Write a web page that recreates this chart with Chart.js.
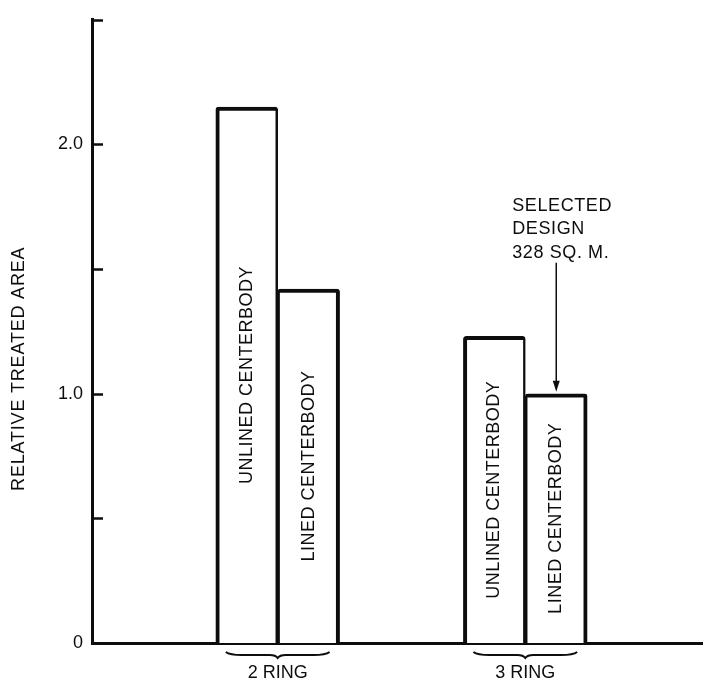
<!DOCTYPE html>
<html>
<head>
<meta charset="utf-8">
<script src="https://cdn.jsdelivr.net/npm/chart.js@4/dist/chart.umd.min.js"></script>
<style>
  html, body { margin: 0; padding: 0; background: #fff; overflow: hidden; }
  #wrap { width: 711px; height: 684px; }
</style>
</head>
<body>
<div id="wrap"><canvas id="chart" width="711" height="684"></canvas></div>
<script>
// categories (empty slots keep the two groups spaced like the drawing)
const xLabels = ['', '2 RING', '', '3 RING', ''];
const unlinedValues = [null, 2.15, null, 1.23, null];
const linedValues = [null, 1.42, null, 1.00, null];
const barTexts = ['UNLINED CENTERBODY', 'LINED CENTERBODY'];
const yTickLabels = { 0: '0', 1: '1.0', 2: '2.0' };
const yTitle = 'RELATIVE TREATED AREA';
const noteLines = ['SELECTED', 'DESIGN', '328 SQ. M.'];

const INK = '#0d0d0d';
const FONT = '"Liberation Sans", Arial, sans-serif';
Chart.defaults.font.family = FONT;
Chart.defaults.color = INK;

// inward tick marks on the y axis
const innerTicks = {
  id: 'innerTicks',
  afterDraw(chart) {
    const y = chart.scales.y;
    const ctx = chart.ctx;
    ctx.save();
    ctx.strokeStyle = INK;
    ctx.lineWidth = 2.5;
    y.ticks.forEach(t => {
      if (t.value <= 0) return;
      const py = Math.round(y.getPixelForValue(t.value)) + 0.5;
      ctx.beginPath();
      ctx.moveTo(y.right, py);
      ctx.lineTo(y.right + 11, py);
      ctx.stroke();
    });
    ctx.restore();
  }
};

// rotated axis title, text in bars, braces, arrow note
const decorations = {
  id: 'decorations',
  afterDraw(chart) {
    const ctx = chart.ctx;
    const y = chart.scales.y;
    ctx.save();
    ctx.fillStyle = INK;
    ctx.strokeStyle = INK;
    ctx.font = '18px ' + FONT;
    ctx.textAlign = 'center';
    ctx.textBaseline = 'middle';

    // y title
    ctx.save();
    ctx.letterSpacing = '0.8px';
    ctx.translate(19, y.getPixelForValue(1.1));
    ctx.rotate(-Math.PI / 2);
    ctx.fillText(yTitle, 0, 0);
    ctx.restore();

    // labels inside bars
    chart.data.datasets.forEach((ds, di) => {
      const meta = chart.getDatasetMeta(di);
      meta.data.forEach((el, i) => {
        if (ds.data[i] == null) return;
        ctx.save();
        ctx.letterSpacing = '0.5px';
        ctx.translate(el.x, (el.y + el.base) / 2);
        ctx.rotate(-Math.PI / 2);
        ctx.fillText(barTexts[di], 0, 0);
        ctx.restore();
      });
    });

    // braces under each group
    const m0 = chart.getDatasetMeta(0);
    const m1 = chart.getDatasetMeta(1);
    ctx.lineWidth = 2;
    xLabels.forEach((lab, i) => {
      if (!lab) return;
      const a = m0.data[i], b = m1.data[i];
      const x0 = a.x - a.width / 2 + 10;
      const x1 = b.x + b.width / 2 - 10;
      const xm = (x0 + x1) / 2;
      const y0 = a.base + 9;
      ctx.beginPath();
      ctx.moveTo(x0, y0);
      ctx.quadraticCurveTo(x0 + 4, y0 + 3, x0 + 16, y0 + 3);
      ctx.lineTo(xm - 8, y0 + 3);
      ctx.quadraticCurveTo(xm - 2, y0 + 3, xm, y0 + 6);
      ctx.quadraticCurveTo(xm + 2, y0 + 3, xm + 8, y0 + 3);
      ctx.lineTo(x1 - 16, y0 + 3);
      ctx.quadraticCurveTo(x1 - 4, y0 + 3, x1, y0);
      ctx.stroke();
    });

    // arrow to the selected design (lined, 3 ring)
    const sel = m1.data[3];
    const top = sel.y - 131;
    ctx.lineWidth = 1.5;
    ctx.beginPath();
    ctx.moveTo(sel.x, top);
    ctx.lineTo(sel.x, sel.y - 10);
    ctx.stroke();
    ctx.beginPath();
    ctx.moveTo(sel.x - 3.5, sel.y - 13);
    ctx.lineTo(sel.x + 3.5, sel.y - 13);
    ctx.lineTo(sel.x, sel.y - 2);
    ctx.closePath();
    ctx.fill();

    ctx.textAlign = 'left';
    ctx.letterSpacing = '0.6px';
    noteLines.forEach((t, k) => {
      ctx.fillText(t, sel.x - 44, top - 10 - (noteLines.length - 1 - k) * 23.5);
    });
    ctx.restore();
  }
};

new Chart(document.getElementById('chart'), {
  type: 'bar',
  data: {
    labels: xLabels,
    datasets: [
      {
        label: 'Unlined centerbody',
        data: unlinedValues,
        backgroundColor: '#fff',
        borderColor: INK,
        borderWidth: { left: 4, right: 2.5, top: 4, bottom: 0 },
        borderSkipped: 'bottom',
        borderRadius: { topLeft: 3, topRight: 3 },
        categoryPercentage: 1,
        barPercentage: 1
      },
      {
        label: 'Lined centerbody',
        data: linedValues,
        backgroundColor: '#fff',
        borderColor: INK,
        borderWidth: { left: 2.5, right: 4, top: 4, bottom: 0 },
        borderSkipped: 'bottom',
        borderRadius: { topLeft: 3, topRight: 3 },
        categoryPercentage: 1,
        barPercentage: 1
      }
    ]
  },
  options: {
    responsive: false,
    animation: false,
    layout: { padding: { top: 11, right: 0, bottom: 0, left: 0 } },
    plugins: {
      legend: { display: false },
      tooltip: { enabled: false }
    },
    scales: {
      x: {
        grid: { display: false, drawTicks: false },
        border: { display: true, color: INK, width: 3 },
        ticks: { padding: 19, font: { size: 18 }, color: INK, maxRotation: 0, autoSkip: false },
        afterFit: s => { s.height = 41; }
      },
      y: {
        min: 0,
        max: 2.5,
        grid: { display: false, drawTicks: false },
        border: { display: true, color: INK, width: 3 },
        ticks: {
          stepSize: 0.5,
          padding: 9,
          font: { size: 18 },
          color: INK,
          callback: v => yTickLabels[v] ?? ''
        },
        afterFit: s => { s.width = 92; }
      }
    }
  },
  plugins: [innerTicks, decorations]
});
</script>
</body>
</html>
